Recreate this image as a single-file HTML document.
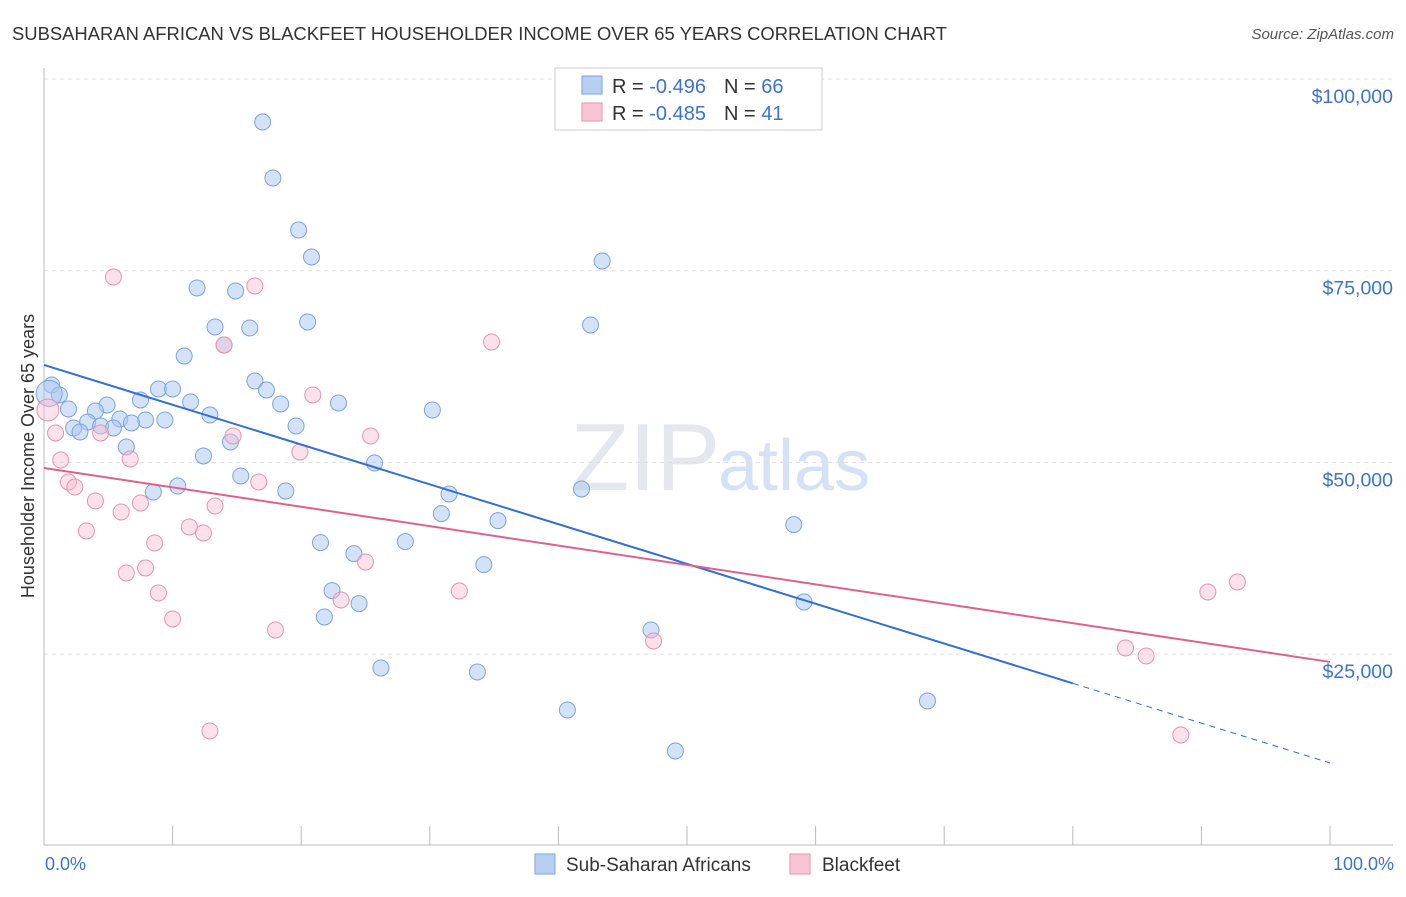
<!DOCTYPE html>
<html><head><meta charset="utf-8">
<style>
body{margin:0;background:#fff;font-family:"Liberation Sans",sans-serif;}
svg text{font-family:"Liberation Sans",sans-serif;}
</style></head>
<body>
<svg id="chart" width="1406" height="892" xmlns="http://www.w3.org/2000/svg">
<text x="12" y="40" font-size="18" fill="#333" textLength="935" lengthAdjust="spacingAndGlyphs">SUBSAHARAN AFRICAN VS BLACKFEET HOUSEHOLDER INCOME OVER 65 YEARS CORRELATION CHART</text>
<text x="1394" y="39" font-size="15" fill="#555" font-style="italic" text-anchor="end">Source: ZipAtlas.com</text>
<text x="720" y="490" font-size="96" fill="#e4e8ee" text-anchor="end" font-family="Liberation Serif">ZIP</text>
<text x="718" y="490" font-size="72" fill="#d5e2f5">atlas</text>
<g id="grid"></g>
<g id="axes"></g>
<g id="pts"></g>
<g id="trend"></g>
<text x="34" y="456" font-size="18" fill="#333" text-anchor="middle" transform="rotate(-90 34 456)">Householder Income Over 65 years</text>
<text x="45" y="870" font-size="18" fill="#3d72d1">0.0%</text>
<text x="1394" y="870" font-size="18" fill="#3d72d1" text-anchor="end">100.0%</text>
<g>
<rect x="555" y="68" width="267" height="62" fill="#fff" stroke="#ccc"/>
<rect x="582" y="76" width="20" height="18" fill="#b7cff3" stroke="#7aa3e0"/>
<rect x="582" y="103" width="20" height="18" fill="#f9c5d5" stroke="#e892ad"/>
<text x="612" y="93" font-size="20" fill="#333">R = <tspan fill="#3d72d1">-0.496</tspan><tspan dx="18">N = </tspan><tspan fill="#3d72d1">66</tspan></text>
<text x="612" y="120" font-size="20" fill="#333">R = <tspan fill="#3d72d1">-0.485</tspan><tspan dx="18">N = </tspan><tspan fill="#3d72d1"> 41</tspan></text>
</g>
<g>
<rect x="535" y="854" width="20" height="20" fill="#b7cff3" stroke="#7aa3e0"/>
<text x="566" y="871" font-size="19" fill="#333">Sub-Saharan Africans</text>
<rect x="790" y="854" width="20" height="20" fill="#f9c5d5" stroke="#e892ad"/>
<text x="822" y="871" font-size="19" fill="#333">Blackfeet</text>
</g>
</svg>
<script>
const yTicks=[25000,50000,75000,100000];
const yTickLabels=["$25,000","$50,000","$75,000","$100,000"];
const blueX=[17.0,17.8,19.8,20.8,43.4,11.9,14.9,20.5,42.5,13.3,16.0,14.0,10.9,16.4,0.6,8.9,10.0,17.3,1.2,7.5,11.4,18.4,22.9,4.9,1.9,4.0,30.2,12.9,5.9,7.9,9.4,3.4,6.8,19.6,4.4,5.4,2.3,2.8,14.5,6.4,12.4,25.7,15.3,10.4,8.5,18.8,31.5,41.8,30.9,35.3,58.3,21.5,28.1,24.1,34.2,22.4,24.5,59.1,21.8,47.2,26.2,33.7,68.7,40.7,49.1,0.4];
const blueY=[94393,87090,80309,76789,76267,72746,72355,68313,67922,67661,67530,65314,63880,60620,60098,59577,59577,59446,58794,58142,57881,57620,57750,57490,56968,56707,56838,56186,55664,55534,55534,55273,55142,54751,54751,54490,54490,53969,52665,52013,50840,49927,48232,46928,46145,46276,45885,46537,43320,42407,41886,39539,39669,38104,36670,33280,31585,31801,29844,28149,23194,22673,18891,17717,12370,59000];
const pinkX=[5.4,16.4,34.8,14.0,20.9,25.4,14.7,0.9,4.4,6.7,1.3,19.9,1.9,16.7,2.4,4.0,7.5,13.3,6.0,11.3,3.3,12.4,8.6,7.9,6.4,25.0,8.9,32.3,23.1,10.0,18.0,47.4,92.8,90.5,84.1,85.7,88.4,12.9,0.3];
const pinkY=[74181,73007,65705,65314,58794,53447,53447,53838,53838,50448,50318,51361,47449,47449,46797,44971,44710,44319,43537,41581,41059,40798,39494,36234,35582,37017,32976,33235,32062,29584,28149,26715,34408,33104,25802,24758,14456,14978,56838];
const blueTrend=[62706,10810];
const pinkTrend=[49274,23977];
const NS='http://www.w3.org/2000/svg';
const xs=p=>44+p*12.86;
const ys=v=>79+(100000-v)/25000*191.7;
function mk(tag,attrs,parent){const e=document.createElementNS(NS,tag);for(const k in attrs)e.setAttribute(k,attrs[k]);parent.appendChild(e);return e;}
const grid=document.getElementById('grid'),axes=document.getElementById('axes'),pts=document.getElementById('pts'),tr=document.getElementById('trend');
yTicks.forEach((t,i)=>{
 const l=mk('line',{x1:44,x2:1393,y1:ys(t),y2:ys(t),stroke:'#ddd','stroke-dasharray':'4,4'},grid);
 
 
 const tx=mk('text',{x:1393,y:ys(t)+24,'font-size':19.5,fill:'#3d72d1','text-anchor':'end'},grid);
 tx.textContent=yTickLabels[i];
 
 
});
const ax=mk('line',{x1:44,x2:1393,y1:845,y2:845,stroke:'#bbb'},axes);


const ay=mk('line',{x1:44,x2:44,y1:68,y2:845,stroke:'#bbb'},axes);


for(let i=0;i<=10;i++){
 const t=mk('line',{x1:xs(i*10),x2:xs(i*10),y1:826,y2:845,stroke:'#bbb'},axes);
 
 
}
blueX.forEach((x,i)=>{
 const c=mk('circle',{cx:xs(x),cy:ys(blueY[i]),r:i==blueX.length-1?13:8,fill:'rgba(170,198,240,0.5)',stroke:'#7aa3e0','stroke-width':1},pts);
 
 
});
pinkX.forEach((x,i)=>{
 const c=mk('circle',{cx:xs(x),cy:ys(pinkY[i]),r:i==pinkX.length-1?11:8,fill:'rgba(246,190,208,0.45)',stroke:'#e892ad','stroke-width':1},pts);
 
 
});
const bAt=p=>blueTrend[0]+(blueTrend[1]-blueTrend[0])*p/100;
const b1=mk('line',{x1:xs(0),y1:ys(bAt(0)),x2:xs(80),y2:ys(bAt(80)),stroke:'#2f6fd6','stroke-width':2},tr);


const b2=mk('line',{x1:xs(80),y1:ys(bAt(80)),x2:xs(100),y2:ys(bAt(100)),stroke:'#2f6fd6','stroke-width':1,'stroke-dasharray':'6,5'},tr);


const p1=mk('line',{x1:xs(0),y1:ys(pinkTrend[0]),x2:xs(100),y2:ys(pinkTrend[1]),stroke:'#e0608d','stroke-width':2},tr);


</script>
</body></html>
